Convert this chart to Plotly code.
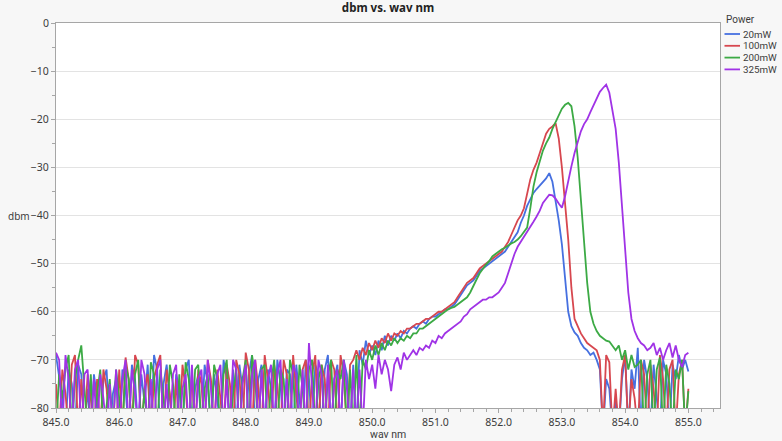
import numpy as np
import plotly.graph_objects as go

# Spectrometer sampling grid (nm)
WAV_START = 845.0
WAV_STEP = 0.05
N_SAMPLES = 201
wav_nm = np.round(WAV_START + WAV_STEP * np.arange(N_SAMPLES), 2)

series_names = ["20mW", "100mW", "200mW", "325mW"]
series_colors = ["#4670E0", "#D7474F", "#3CAA45", "#A033E6"]

# Measured power (dBm); readings below the -80 dBm floor fall off the plot
dbm_20mW = [
    -69, -74, -78, -85, -72, -75, -85, -71, -73, -85,
    -76, -85, -73, -78, -85, -74, -72, -85, -77, -74,
    -85, -72, -76, -85, -71, -74, -85, -73, -79, -71,
    -85, -69, -72, -85, -75, -71, -78, -85, -73, -76,
    -85, -72, -70, -85, -76, -73, -85, -71, -75, -85,
    -73, -78, -85, -70, -74, -85, -72, -85, -71, -76,
    -85, -73, -69, -85, -74, -71, -85, -72, -76, -85,
    -70, -75, -85, -72, -73, -85, -71, -78, -85, -70,
    -74, -85, -71, -73, -85, -72, -69, -85, -74, -71,
    -85, -70, -73, -85, -71, -85, -68, -71, -66, -69,
    -67, -69, -66, -68, -65, -67, -65, -66, -64.5, -65.5,
    -64, -64.5, -63.5, -63, -63.5, -62.5, -62, -62.5, -61.5, -61,
    -61, -60.5, -60, -59.5, -59.5, -59, -58.5, -57.5, -56.5, -55.5,
    -54.5, -54, -53.5, -52.5, -51.5, -51, -50.5, -50, -49.5, -49,
    -48.5, -48, -47.5, -46.5, -45.5, -44.5, -43.5, -41.5, -40, -38,
    -36.5, -35.3, -34.5, -33.8, -33, -32.3, -31.2, -33, -37, -41,
    -46, -53, -60, -63, -64.3, -65, -66.5, -67.5, -68, -69,
    -68.5, -70, -72, -85, -74, -76, -85, -78, -85, -74,
    -69, -85, -72, -76, -67.5, -85, -70, -74, -85, -71,
    -77, -85, -70, -73, -85, -71, -74, -69, -72, -70,
    -72.4,
]

dbm_100mW = [
    -75, -85, -72, -77, -85, -71, -69, -85, -74, -85,
    -73, -78, -85, -74, -85, -72, -76, -85, -80, -85,
    -72, -85, -69.5, -74, -85, -69, -71, -85, -76, -73,
    -85, -74, -71, -69, -85, -72, -77, -85, -74, -85,
    -71, -76, -85, -73, -85, -72, -75, -85, -70, -74,
    -85, -72, -78, -85, -71, -75, -85, -70, -73, -85,
    -68.5, -72, -85, -70, -76, -85, -69, -74, -85, -71,
    -75, -85, -70, -73, -85, -69, -77, -85, -72, -70,
    -85, -73, -69, -85, -71, -74, -85, -70, -72, -85,
    -69, -73, -85, -71, -70, -68, -70, -67.5, -69, -66.5,
    -68, -66, -67.5, -65.5, -66.5, -64.5, -66, -64.5, -65, -64,
    -64.5, -63.5, -63.5, -63, -62.5, -62.5, -62, -61.5, -61.5, -61,
    -60.5, -60, -60, -59.5, -59, -58.5, -58, -57, -56, -55,
    -54, -53.5, -53, -52, -51, -50.5, -50, -49.5, -49, -48.5,
    -48, -47.5, -46.5, -45.5, -44, -42.5, -41, -40, -38.5, -35.5,
    -32.5, -30.5, -29, -27, -25, -23, -22, -21.5, -20.8, -24,
    -30, -38, -45, -55, -61.5, -63, -64.5, -65.5, -66.5, -67,
    -67.5, -68, -70, -85, -69, -70.5, -85, -76, -85, -72,
    -69, -85, -74, -78, -85, -70, -73, -85, -71, -76,
    -85, -69, -74, -85, -72, -70, -85, -73, -70, -85,
    -76,
]

dbm_200mW = [
    -85, -73, -78, -72, -69, -85, -74, -70, -67, -76,
    -85, -73, -85, -77, -72, -85, -80, -74, -85, -72,
    -78, -85, -71, -74, -85, -73, -70, -85, -76, -85,
    -70.5, -73, -85, -72, -78, -85, -71, -75, -85, -73,
    -85, -70.5, -74, -85, -72, -71, -85, -76, -73, -85,
    -71, -74, -85, -73, -70, -85, -77, -72, -85, -74,
    -70, -85, -69, -74, -85, -72, -71, -85, -75, -70,
    -85, -72, -74, -85, -70, -73, -85, -71, -76, -85,
    -72, -70, -85, -74, -71, -85, -73, -70, -85, -72,
    -74, -70, -85, -72, -85, -69, -85, -70, -72, -68,
    -70, -67, -69, -66.5, -68, -66, -67, -65.5, -66.5, -65.5,
    -66, -65, -65.5, -64.5, -64.5, -63.5, -63.5, -63, -62.5, -62,
    -61.5, -61, -60.5, -60, -59.5, -59.2, -59, -58.5, -58, -57.5,
    -57, -56, -54.5, -53.3, -52, -51, -50.2, -49.5, -48.5, -48,
    -47.5, -47, -46.7, -46.2, -45.8, -45.5, -45, -44.3, -43.5, -42.5,
    -38.5, -34, -31, -29, -26.5, -25, -23.8, -22, -20.5, -19,
    -17.8, -17, -16.6, -17.3, -21.5, -28, -37, -46, -54, -60,
    -62.5, -64, -65, -65.5, -66, -66.2, -67, -68, -67, -70,
    -68, -72, -69, -71.5, -71, -70, -85, -73, -70, -85,
    -72, -69.5, -85, -71, -75, -85, -72, -74, -70, -85,
    -76.5,
]

dbm_325mW = [
    -68.5, -70, -85, -69, -74, -85, -72, -70, -85, -73,
    -72, -85, -74, -85, -73, -78, -85, -75, -85, -72,
    -85, -74, -70, -85, -72, -77, -85, -70, -73, -85,
    -74, -85, -72, -70, -85, -75, -85, -73, -71, -85,
    -76, -73, -85, -71, -85, -74, -72, -85, -70, -76,
    -85, -73, -71, -85, -74, -85, -70, -72, -85, -75,
    -71, -85, -73, -70, -85, -72, -85, -74, -71, -85,
    -73, -70, -85, -74, -85, -71, -73, -85, -72, -85,
    -66.5, -75, -85, -70, -73, -85, -71, -85, -74, -72,
    -85, -70, -76, -85, -72, -85, -72, -85, -70, -74,
    -71, -76, -69, -73, -70, -72, -76.5, -71, -69.5, -72,
    -68.5, -70, -69, -68, -69, -67.5, -68, -67, -67.5, -66,
    -66.5, -65, -65.5, -64.5, -64, -63.5, -63, -62.5, -62, -61,
    -60.5, -59.5, -59, -58.5, -58, -57.5, -57.5, -57, -57, -56.5,
    -56, -55, -54, -52, -50, -48, -46.5, -45.5, -44.5, -43.5,
    -42.5, -41.3, -40.2, -39, -37.4, -36.5, -35.7, -35.8, -36.5, -37.5,
    -38.4, -36, -32.5, -29.8, -27, -25, -22.5, -21, -20, -18.5,
    -17, -15.5, -14.3, -13.5, -12.8, -14.5, -18, -22, -29, -38,
    -47, -56, -61.5, -64, -65.5, -66.5, -67, -68, -67.5, -66.5,
    -69, -67.5, -70, -68, -66.5, -69.5, -67, -70, -71.5, -69,
    -68.5,
]

series_values = [dbm_20mW, dbm_100mW, dbm_200mW, dbm_325mW]

y_ticks = [0, -10, -20, -30, -40, -50, -60, -70, -80]
x_ticks = [845.0, 846.0, 847.0, 848.0, 849.0, 850.0, 851.0, 852.0, 853.0, 854.0, 855.0]
x_tick_labels = [f"{v:.1f}" for v in x_ticks]

FONT = "Noto Sans"
SMALL_FONT = "Roboto"
TEXT = "#3c3c3c"
AXIS = "#a6a6a6"

# plot-area geometry in pixels, used to place the side legend
FIG_W, FIG_H = 782, 441
M_L, M_R, M_T, M_B = 56, 62, 23, 33
PLOT_W = FIG_W - M_L - M_R
PLOT_H = FIG_H - M_T - M_B


def px_to_paper(px_x, px_y):
    return (px_x - M_L) / PLOT_W, 1 - (px_y - M_T) / PLOT_H


fig = go.Figure()
for name, color, vals in zip(series_names, series_colors, series_values):
    fig.add_trace(go.Scatter(
        x=wav_nm, y=vals, mode="lines", name=name,
        line=dict(color=color, width=1.8),
        showlegend=False,
    ))

fig.update_layout(
    width=FIG_W, height=FIG_H,
    margin=dict(l=M_L, r=M_R, t=M_T, b=M_B, pad=0),
    paper_bgcolor="#f7f7f7",
    plot_bgcolor="#ffffff",
    font=dict(family=FONT, size=11, color=TEXT),
    title=dict(
        text="<b>dbm vs. wav nm</b>", x=0.5, xref="paper", xanchor="center",
        y=0.982, yref="container", yanchor="middle",
        font=dict(family=FONT, size=11.5, color="#222222"),
    ),
)

fig.update_xaxes(
    range=[845.0, 855.5], tickmode="array", tickvals=x_ticks, ticktext=x_tick_labels,
    ticks="outside", ticklen=4, tickcolor=AXIS, showgrid=False, zeroline=False,
    showline=True, linecolor=AXIS, linewidth=1, mirror=True,
    tickfont=dict(size=10.5, color=TEXT),
    minor=dict(dtick=0.2, ticks="outside", ticklen=3, tickcolor=AXIS, showgrid=False),
)
fig.update_yaxes(
    range=[-80, 0], tickmode="array", tickvals=y_ticks,
    ticks="outside", ticklen=4, tickcolor=AXIS,
    showgrid=True, gridcolor="#e3e3e3", gridwidth=1, zeroline=False,
    showline=True, linecolor=AXIS, linewidth=1, mirror=True,
    tickfont=dict(size=10.5, color=TEXT),
    minor=dict(dtick=5, ticks="outside", ticklen=3, tickcolor=AXIS, showgrid=False),
)

# Axis titles
ax, ay = px_to_paper(19, 216)
fig.add_annotation(text="dbm", xref="paper", yref="paper", x=ax, y=ay,
                   xanchor="center", yanchor="middle", showarrow=False,
                   font=dict(size=10, color=TEXT))
ax, ay = px_to_paper(390, 434.5)
fig.add_annotation(text="wav nm", xref="paper", yref="paper", x=0.5, y=ay,
                   xanchor="center", yanchor="middle", showarrow=False,
                   font=dict(family=SMALL_FONT, size=10.5, color=TEXT))

# Compact legend to the right of the plot
tx, ty = px_to_paper(724, 19.5)
fig.add_annotation(text="Power", xref="paper", yref="paper", x=tx, y=ty,
                   xanchor="left", yanchor="middle", showarrow=False,
                   font=dict(family=SMALL_FONT, size=10, color=TEXT))
for k, (name, color) in enumerate(zip(series_names, series_colors)):
    x0, y_paper = px_to_paper(724.5, 34 + 11.8 * k)
    x1, _ = px_to_paper(740, 0)
    xt, _ = px_to_paper(741, 0)
    fig.add_shape(type="line", xref="paper", yref="paper",
                  x0=x0, x1=x1, y0=y_paper, y1=y_paper,
                  line=dict(color=color, width=1.8))
    fig.add_annotation(text=name, xref="paper", yref="paper",
                       x=xt, y=y_paper, xanchor="left", yanchor="middle",
                       showarrow=False,
                       font=dict(family=SMALL_FONT, size=9.8, color=TEXT))

fig.write_html("out.html")
